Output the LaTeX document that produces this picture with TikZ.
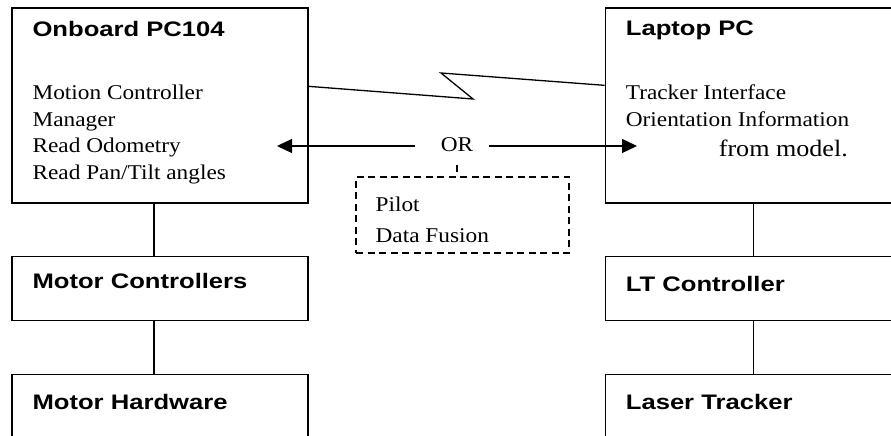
\documentclass[tikz,border=0pt]{standalone}
\usepackage{fontspec}
\setmainfont{Liberation Serif}[FakeStretch=1.11]
\newfontfamily\boxfont{Liberation Sans}[FakeStretch=1.22]
\usetikzlibrary{arrows.meta,positioning}

\begin{document}
\begin{tikzpicture}[x=1pt,y=1pt,
    box/.style={draw,line width=1.3pt,inner sep=0pt,minimum width=296pt},
    title/.style={anchor=base west,inner sep=0pt,font=\boxfont\bfseries\fontsize{21}{25}\selectfont},
    body/.style={anchor=base west,inner sep=0pt,align=left,font=\fontsize{21}{26.6}\selectfont},
    link/.style={line width=1.3pt},
    dashlink/.style={line width=1.1pt,dash pattern=on 7pt off 4.5pt},
    arr/.style={line width=1.3pt,-{Triangle[length=15pt,width=14pt]}}]
    \useasboundingbox (0,0) rectangle (891,436);
    \clip (0,0) rectangle (891,436);

    % Boxes
    \node[box,minimum height=195pt] (pc) at (160,330.5) {};
    \node[box,minimum height=195pt,right=296pt of pc] (laptop) {};
    \node[box,minimum height=64pt,below=52pt of pc] (mc) {};
    \node[box,minimum height=80pt,below=53pt of mc] (mh) {};
    \node[box,minimum height=64pt,below=52pt of laptop] (lt) {};
    \node[box,minimum height=80pt,below=53pt of lt] (tracker) {};
    \node[draw,dashlink,inner sep=0pt,minimum width=213pt,minimum height=76pt] (fusion) at (462.5,221) {};

    % Titles
    \node[title] (pctitle) at ([shift={(21,-29)}]pc.north west) {Onboard PC104};
    \node[title] (laptoptitle) at ([shift={(21,-28)}]laptop.north west) {Laptop PC};
    \node[title] (mctitle) at ([shift={(21,-33)}]mc.north west) {Motor Controllers};
    \node[title] (mhtitle) at ([shift={(21,-36)}]mh.north west) {Motor Hardware};
    \node[title] (lttitle) at ([shift={(21,-36)}]lt.north west) {LT Controller};
    \node[title] (trackertitle) at ([shift={(21,-36)}]tracker.north west) {Laser Tracker};

    % Box contents (base = last line)
    \node[body] (pctext) at ([shift={(21,-172)}]pc.north west)
        {Motion Controller\\Manager\\Read Odometry\\Read Pan/Tilt angles};
    \node[body] (laptoptext) at ([shift={(21,-119)}]laptop.north west)
        {Tracker Interface\\Orientation Information};
    \node[body,font=\fontsize{23.5}{28}\selectfont] (modeltext) at ([shift={(114,-149)}]laptop.north west) {from model.};
    \node[body,font=\fontsize{21}{31}\selectfont] (fusiontext) at ([shift={(20,-66)}]fusion.north west)
        {Pilot\\Data Fusion};

    % Radio link
    \coordinate (zigA) at (473,337);
    \coordinate (zigB) at (441,363);
    \draw[link] ([yshift=-79pt]pc.north east) -- (zigA) -- (zigB) -- ([yshift=-78pt]laptop.north west);

    % OR arrows
    \node[inner sep=0pt,anchor=base,font=\fontsize{21}{25}\selectfont] (or) at (457,284) {OR};
    \coordinate (tipL) at (277,290);
    \coordinate (tipR) at (637,290);
    \draw[arr,shorten <=26pt] (or.west |- tipL) -- (tipL);
    \draw[arr,shorten <=16pt] (or.east |- tipR) -- (tipR);
    \draw[dashlink,shorten <=13pt] (or.south) -- (or.south |- fusion.north);

    % Vertical links
    \draw[link] ([xshift=-6pt]pc.south) -- ([xshift=-6pt]mc.north);
    \draw[link] ([xshift=-6pt]mc.south) -- ([xshift=-6pt]mh.north);
    \draw[link] (laptop.south) -- (lt.north);
    \draw[link] (lt.south) -- (tracker.north);
\end{tikzpicture}
\end{document}
